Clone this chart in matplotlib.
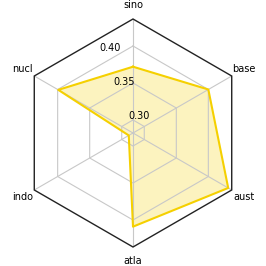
import numpy as np
import matplotlib
matplotlib.use('Agg')
import matplotlib.pyplot as plt
from matplotlib.patches import RegularPolygon
from matplotlib.path import Path
from matplotlib.projections import register_projection
from matplotlib.projections.polar import PolarAxes
from matplotlib.spines import Spine
from matplotlib.transforms import Affine2D

# counter-clockwise from the top
labels = ['sino', 'nucl', 'indo', 'atla', 'aust', 'base']
values = [0.372, 0.399, 0.289, 0.409, 0.431, 0.400]
rticks = [0.30, 0.35, 0.40]
rlim = (0.2824, 0.4365)


def radar_factory(num_vars):
    theta = np.linspace(0, 2 * np.pi, num_vars, endpoint=False)

    class RadarTransform(PolarAxes.PolarTransform):
        def transform_path_non_affine(self, path):
            if path._interpolation_steps > 1:
                path = path.interpolated(num_vars)
            return Path(self.transform(path.vertices), path.codes)

    class RadarAxes(PolarAxes):
        name = 'radar'
        PolarTransform = RadarTransform

        def __init__(self, *args, **kwargs):
            super().__init__(*args, **kwargs)
            self.set_theta_zero_location('N')

        def fill(self, *args, closed=True, **kwargs):
            return super().fill(closed=closed, *args, **kwargs)

        def plot(self, *args, **kwargs):
            lines = super().plot(*args, **kwargs)
            for line in lines:
                x, y = line.get_data()
                if x[0] != x[-1]:
                    line.set_data(np.append(x, x[0]), np.append(y, y[0]))
            return lines

        def _gen_axes_patch(self):
            return RegularPolygon((0.5, 0.5), num_vars, radius=.5, edgecolor="k")

        def _gen_axes_spines(self):
            spine = Spine(axes=self, spine_type='circle',
                          path=Path.unit_regular_polygon(num_vars))
            spine.set_transform(Affine2D().scale(.5).translate(.5, .5) + self.transAxes)
            return {'polar': spine}

    register_projection(RadarAxes)
    return theta


theta = radar_factory(len(labels))

fig = plt.figure(figsize=(2.66, 2.66), dpi=100)
fig.set_facecolor('white')
ax = fig.add_axes([19 / 266, 19 / 266, 228 / 266, 228 / 266], projection='radar')

ax.plot(theta, values, color='#f5d000', lw=1.5)
ax.fill(theta, values, facecolor='#f5d000', alpha=0.25)

ax.set_ylim(*rlim)
ax.set_rgrids(rticks, labels=['%.2f' % t for t in rticks], fontsize=7)
ax.set_thetagrids(np.degrees(theta), labels, fontsize=7)
ax.tick_params(axis='x', pad=-0.5)
ax.grid(color='#c8c8c8', lw=0.8)
ax.spines['polar'].set_color('#222222')
ax.spines['polar'].set_linewidth(1.0)

fig.savefig('out.png', dpi=100)
